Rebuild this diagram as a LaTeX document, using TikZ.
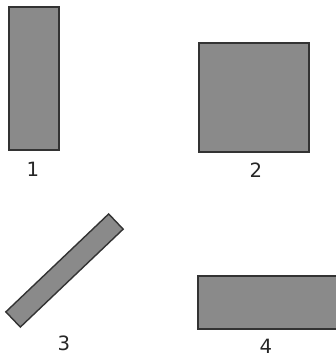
\documentclass[tikz,border=0pt]{standalone}
\usepackage{fontspec}
\setmainfont{DejaVu Sans}

\tikzset{
  plate/.style={rectangle, draw=black!80, line width=1pt, fill=black!46, inner sep=0pt},
  numlabel/.style={font=\fontsize{14}{16}\selectfont, text=black!85},
}

\begin{document}
\begin{tikzpicture}[x=0.025cm, y=-0.025cm]
  \useasboundingbox (0,0) rectangle (336,358);
  \node[plate, minimum width=50*0.025cm, minimum height=143*0.025cm] (plateA) at (34,78.5) {};
  \node[plate, minimum width=110*0.025cm, minimum height=109*0.025cm] (plateB) at (254,97.5) {};
  \node[plate, minimum width=142*0.025cm, minimum height=21*0.025cm, rotate=43.6] (plateC) at (64.5,270.5) {};
  \node[plate, minimum width=140*0.025cm, minimum height=53*0.025cm] (plateD) at (268,302.5) {};
  \node[numlabel] (labA) at (33,169) {1};
  \node[numlabel] (labB) at (256,170) {2};
  \node[numlabel] (labC) at (64,343) {3};
  \node[numlabel] (labD) at (266,346) {4};
\end{tikzpicture}
\end{document}
